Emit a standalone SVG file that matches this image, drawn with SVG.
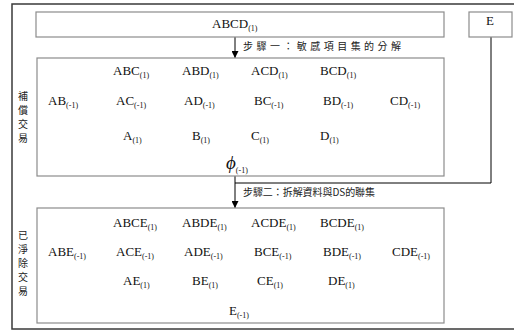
<svg xmlns="http://www.w3.org/2000/svg" width="514" height="331" viewBox="0 0 514 331">
<style>
.frame{fill:none;stroke:#3a3a3a;stroke-width:1.5}
.box{fill:#fff;stroke:#8c8c8c;stroke-width:1.2}
.ln{fill:none;stroke:#000;stroke-width:1}
.t{font-family:"Liberation Serif","Times New Roman",serif;font-size:13px;fill:#111}
.s{font-size:8px}
.cj{font-family:"Noto Sans CJK TC","Noto Sans CJK SC",sans-serif;font-size:10px;fill:#222}
.side{font-family:"Noto Sans CJK TC","Noto Sans CJK SC",sans-serif;font-size:10px;fill:#222;text-anchor:middle}
.phi{font-family:"Liberation Serif","DejaVu Serif",serif;font-style:italic;font-size:19px;fill:#111}
</style>
<defs>
<marker id="ah" viewBox="0 0 8 8" refX="8" refY="4" markerWidth="7" markerHeight="7" markerUnits="userSpaceOnUse" orient="auto">
<path d="M0,0 L8,4 L0,8 z" fill="#000"/>
</marker>
</defs>
<rect class="frame" x="12" y="4" width="510" height="325"/>
<g id="labels-side">
<text class="side" x="23" y="100">補</text>
<text class="side" x="23" y="114">償</text>
<text class="side" x="23" y="128">交</text>
<text class="side" x="23" y="142">易</text>
<text class="side" x="23" y="239">已</text>
<text class="side" x="23" y="253">淨</text>
<text class="side" x="23" y="267">除</text>
<text class="side" x="23" y="281">交</text>
<text class="side" x="23" y="295">易</text>
</g>
<g id="connectors">
<line class="ln" x1="235" y1="37" x2="235" y2="58" marker-end="url(#ah)"/>
<polyline class="ln" points="491,37 491,183 235,183"/>
<line class="ln" x1="235" y1="176" x2="235" y2="208" marker-end="url(#ah)"/>
<text class="cj" x="243" y="50" textLength="158" lengthAdjust="spacing">步驟一：敏感項目集的分解</text>
<text class="cj" x="243" y="196" textLength="132" lengthAdjust="spacing">步驟二：拆解資料與DS的聯集</text>
</g>
<g id="node-abcd">
<rect class="box" x="36" y="12" width="408" height="25"/>
<text class="t" x="212" y="28">ABCD<tspan class="s" dy="3">(1)</tspan></text>
</g>
<g id="node-e">
<rect class="box" x="469" y="12" width="43" height="25"/>
<text class="t" x="490" y="25" text-anchor="middle">E</text>
</g>
<g id="node-compensate">
<rect class="box" x="37" y="58" width="407" height="118"/>
<text class="t" x="113" y="75">ABC<tspan class="s" dy="3">(1)</tspan></text>
<text class="t" x="182" y="75">ABD<tspan class="s" dy="3">(1)</tspan></text>
<text class="t" x="251" y="75">ACD<tspan class="s" dy="3">(1)</tspan></text>
<text class="t" x="320" y="75">BCD<tspan class="s" dy="3">(1)</tspan></text>
<text class="t" x="48" y="105">AB<tspan class="s" dy="3">(-1)</tspan></text>
<text class="t" x="116" y="105">AC<tspan class="s" dy="3">(-1)</tspan></text>
<text class="t" x="184" y="105">AD<tspan class="s" dy="3">(-1)</tspan></text>
<text class="t" x="254" y="105">BC<tspan class="s" dy="3">(-1)</tspan></text>
<text class="t" x="323" y="105">BD<tspan class="s" dy="3">(-1)</tspan></text>
<text class="t" x="390" y="105">CD<tspan class="s" dy="3">(-1)</tspan></text>
<text class="t" x="123" y="140">A<tspan class="s" dy="3">(1)</tspan></text>
<text class="t" x="192" y="140">B<tspan class="s" dy="3">(1)</tspan></text>
<text class="t" x="251" y="140">C<tspan class="s" dy="3">(1)</tspan></text>
<text class="t" x="320" y="140">D<tspan class="s" dy="3">(1)</tspan></text>
<text class="t" x="226" y="169"><tspan class="phi">ϕ</tspan><tspan class="s" dy="4">(-1)</tspan></text>
</g>
<g id="node-purged">
<rect class="box" x="37" y="208" width="407" height="115"/>
<text class="t" x="113" y="227">ABCE<tspan class="s" dy="3">(1)</tspan></text>
<text class="t" x="182" y="227">ABDE<tspan class="s" dy="3">(1)</tspan></text>
<text class="t" x="251" y="227">ACDE<tspan class="s" dy="3">(1)</tspan></text>
<text class="t" x="320" y="227">BCDE<tspan class="s" dy="3">(1)</tspan></text>
<text class="t" x="48" y="256">ABE<tspan class="s" dy="3">(-1)</tspan></text>
<text class="t" x="116" y="256">ACE<tspan class="s" dy="3">(-1)</tspan></text>
<text class="t" x="184" y="256">ADE<tspan class="s" dy="3">(-1)</tspan></text>
<text class="t" x="254" y="256">BCE<tspan class="s" dy="3">(-1)</tspan></text>
<text class="t" x="323" y="256">BDE<tspan class="s" dy="3">(-1)</tspan></text>
<text class="t" x="392" y="256">CDE<tspan class="s" dy="3">(-1)</tspan></text>
<text class="t" x="123" y="285">AE<tspan class="s" dy="3">(1)</tspan></text>
<text class="t" x="192" y="285">BE<tspan class="s" dy="3">(1)</tspan></text>
<text class="t" x="257" y="285">CE<tspan class="s" dy="3">(1)</tspan></text>
<text class="t" x="328" y="285">DE<tspan class="s" dy="3">(1)</tspan></text>
<text class="t" x="229" y="315">E<tspan class="s" dy="3">(-1)</tspan></text>
</g>
</svg>
